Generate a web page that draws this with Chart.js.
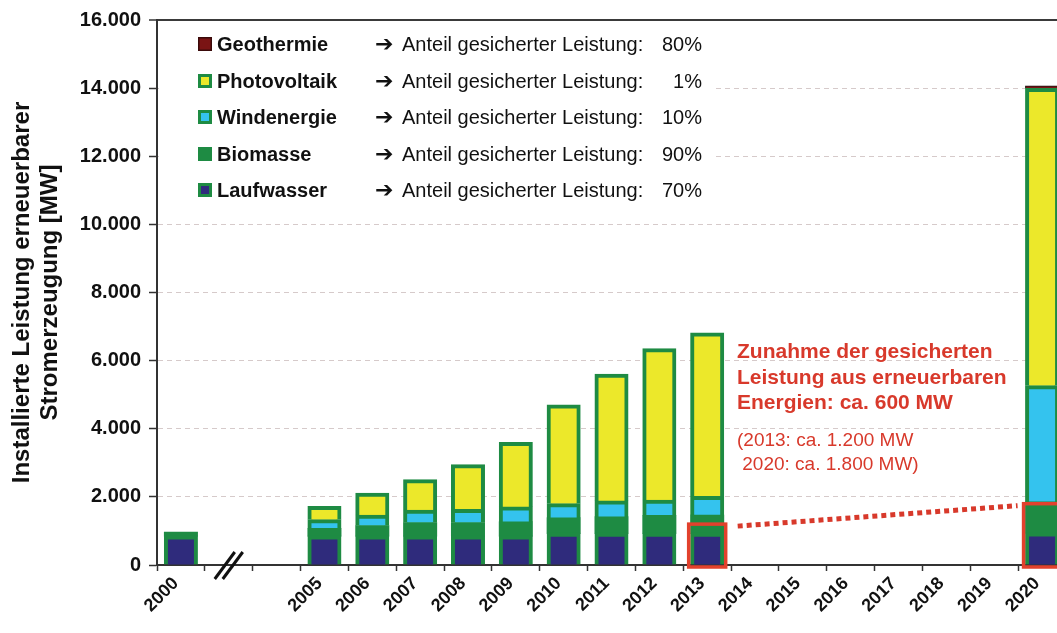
<!DOCTYPE html>
<html><head><meta charset="utf-8">
<script src="https://cdn.jsdelivr.net/npm/chart.js@4.4.1/dist/chart.umd.min.js"></script>
<style>html,body{margin:0;padding:0;background:#fff;overflow:hidden;} #wrap{width:1068px;height:633px;}</style>
</head><body><div id="wrap"><canvas id="c" width="1068" height="633"></canvas></div>
<script>
// ---- data ----
const categories   = ['2000','','','2005','2006','2007','2008','2009','2010','2011','2012','2013','2014','2015','2016','2017','2018','2019','2020'];
const laufwasser   = [850, null, null, 850, 850, 850, 850, 850, 930, 930, 930, 930, null, null, null, null, null, null, 940];
const biomasse     = [110, null, null, 220, 300, 390, 390, 410, 450, 480, 520, 530, null, null, null, null, null, null, 910];
const windenergie  = [0,   null, null, 260, 310, 370, 390, 440, 420, 470, 450, 550, null, null, null, null, null, null, 3410];
const photovoltaik = [0,   null, null, 390, 650, 890, 1310, 1900, 2900, 3720, 4450, 4800, null, null, null, null, null, null, 8730];
const geothermie   = [0,   null, null, 0,   0,   0,   0,   0,   0,   0,   0,   0,   null, null, null, null, null, null, 70];
const seriesNames  = ['Laufwasser', 'Biomasse', 'Windenergie', 'Photovoltaik', 'Geothermie'];
const securedShare = ['70%', '90%', '10%', '1%', '80%'];
const shareLabel   = 'Anteil gesicherter Leistung:';
const yTickValues  = [0, 2000, 4000, 6000, 8000, 10000, 12000, 14000, 16000];
const yTitle       = ['Installierte Leistung erneuerbarer', 'Stromerzeugung [MW]'];
const securedYears = ['2013', '2020'];
const securedMW    = [1200, 1800];
const noteBold     = ['Zunahme der gesicherten', 'Leistung aus erneuerbaren', 'Energien: ca. 600 MW'];
const noteNormal   = ['(2013: ca. 1.200 MW', ' 2020: ca. 1.800 MW)'];

// ---- styles ----
const FONT = '"Liberation Sans", Arial, Helvetica, sans-serif';
const fills   = ['#2F2B7C', '#1E8B43', '#34C3EE', '#ECE82A', '#7A1414'];
const borders = ['#1E8B43', '#1E8B43', '#1E8B43', '#1E8B43', '#1A1010'];
const bWidths = [4, 0, 4, 4, 1];
const RED = '#D8392B';
const fmt = v => String(v).replace(/\B(?=(\d{3})+(?!\d))/g, '.');

const seriesData = [laufwasser, biomasse, windenergie, photovoltaik, geothermie];
const datasets = seriesNames.map((n, i) => ({
  label: n, data: seriesData[i], backgroundColor: fills[i], borderColor: borders[i],
  borderWidth: bWidths[i], borderSkipped: 'start', stack: 's', inflateAmount: 0.5,
  barPercentage: 0.69, categoryPercentage: 1.0
}));

const decor = {
  id: 'decor',
  beforeDatasetsDraw(chart) {
    const ctx = chart.ctx;
    ctx.save();
    ctx.fillStyle = '#fff';
    ctx.fillRect(chart.chartArea.left + 2, chart.chartArea.top + 6, 556, 186);
    ctx.restore();
  },
  afterDraw(chart) {
    const ctx = chart.ctx, xs = chart.scales.x, ys = chart.scales.y;
    ctx.save();
    // legend (top to bottom: reverse of stack order)
    const rowsY = [44, 81, 117, 154, 190];
    for (let r = 0; r < 5; r++) {
      const i = 4 - r, y = rowsY[r];
      if (i === 4) {
        ctx.fillStyle = '#3a0a0a'; ctx.fillRect(198, y - 7, 14, 14);
        ctx.fillStyle = fills[4]; ctx.fillRect(199.5, y - 5.5, 11, 11);
      } else if (i === 1) {
        ctx.fillStyle = fills[1]; ctx.fillRect(198, y - 7, 14, 14);
      } else {
        ctx.fillStyle = '#1E8B43'; ctx.fillRect(198, y - 7, 14, 14);
        ctx.fillStyle = fills[i]; ctx.fillRect(201, y - 4, 8, 8);
      }
      ctx.fillStyle = '#111';
      ctx.textBaseline = 'middle';
      ctx.textAlign = 'left';
      ctx.font = 'bold 20px ' + FONT;
      ctx.fillText(seriesNames[i], 217, y + 1);
      ctx.font = 'bold 22px "DejaVu Sans", ' + FONT;
      ctx.fillText('\u2794', 375, y + 1);
      ctx.font = '20px ' + FONT;
      ctx.fillText(shareLabel, 402, y + 1);
      ctx.textAlign = 'right';
      ctx.fillText(securedShare[i], 702, y + 1);
    }
    // red boxes for secured capacity
    const meta = chart.getDatasetMeta(0);
    const boxes = securedYears.map((yr, k) => {
      const idx = categories.indexOf(yr);
      const bar = meta.data[idx];
      const l = bar.x - bar.width / 2 - 2, r = bar.x + bar.width / 2 + 2;
      const t = ys.getPixelForValue(securedMW[k]), b = ys.getPixelForValue(0) + 2;
      return {l, r, t, b};
    });
    ctx.strokeStyle = '#E2412D'; ctx.lineWidth = 3.5;
    boxes.forEach(bx => ctx.strokeRect(bx.l, bx.t, bx.r - bx.l, bx.b - bx.t));
    // dotted connector
    ctx.beginPath();
    ctx.setLineDash([5, 4]);
    ctx.lineWidth = 5; ctx.strokeStyle = RED;
    ctx.moveTo(boxes[0].r + 12, boxes[0].t + 2);
    ctx.lineTo(boxes[1].l - 6, boxes[1].t + 2);
    ctx.stroke();
    ctx.setLineDash([]);
    // annotation
    ctx.fillStyle = RED; ctx.textAlign = 'left'; ctx.textBaseline = 'alphabetic';
    ctx.font = 'bold 21px ' + FONT;
    noteBold.forEach((s, k) => ctx.fillText(s, 737, 358 + k * 25.5));
    ctx.font = '19px ' + FONT;
    noteNormal.forEach((s, k) => ctx.fillText(s, 737, 446 + k * 24));
    // axis break marks
    const cx = xs.getPixelForValue(1), y0 = ys.getPixelForValue(0);
    ctx.strokeStyle = '#111'; ctx.lineWidth = 3;
    [-4, 4].forEach(dx => {
      ctx.beginPath();
      ctx.moveTo(cx + dx - 10, y0 + 14);
      ctx.lineTo(cx + dx + 10, y0 - 13);
      ctx.stroke();
    });
    ctx.restore();
  }
};

new Chart(document.getElementById('c'), {
  type: 'bar',
  data: { labels: categories, datasets },
  options: {
    responsive: false, animation: false, devicePixelRatio: 1,
    layout: { padding: { top: 17, right: 2, left: 0, bottom: 0 } },
    plugins: { legend: { display: false }, tooltip: { enabled: false } },
    scales: {
      x: {
        stacked: true, offset: true,
        grid: { display: true, drawOnChartArea: false, drawTicks: true, tickLength: 6, tickColor: '#333', tickWidth: 1.5, offset: true },
        border: { display: true, color: '#333', width: 2 },
        ticks: { autoSkip: false, maxRotation: 45, minRotation: 45, padding: 2, labelOffset: -5,
                 color: '#111', font: { family: FONT, size: 18, weight: 'bold' } },
        afterFit(s) { s.height = 68; }
      },
      y: {
        stacked: true, min: 0, max: 16000,
        afterBuildTicks(s) { s.ticks = yTickValues.map(v => ({ value: v })); },
        ticks: { callback: v => fmt(v), padding: 8, color: '#111', font: { family: FONT, size: 20, weight: 'bold' } },
        grid: {
          color: c => c.tick.value === 0 ? 'rgba(0,0,0,0)' : (c.tick.value === 16000 ? '#3a3a3a' : '#D6CACA'),
          lineWidth: c => c.tick.value === 16000 ? 2 : 1,
          tickLength: 8, tickColor: '#333', tickWidth: 1.5, tickBorderDash: []
        },
        border: { display: true, color: '#333', width: 2,
                  dash: c => (c.type === 'tick' && c.tick && c.tick.value < 16000) ? [5, 4] : [] },
        title: { display: true, text: yTitle, color: '#111', padding: { top: 8, bottom: 0 },
                 font: { family: FONT, size: 24, weight: 'bold', lineHeight: 1.17 } },
        afterFit(s) { s.width = 157; }
      }
    }
  },
  plugins: [decor]
});
</script>
</body></html>
